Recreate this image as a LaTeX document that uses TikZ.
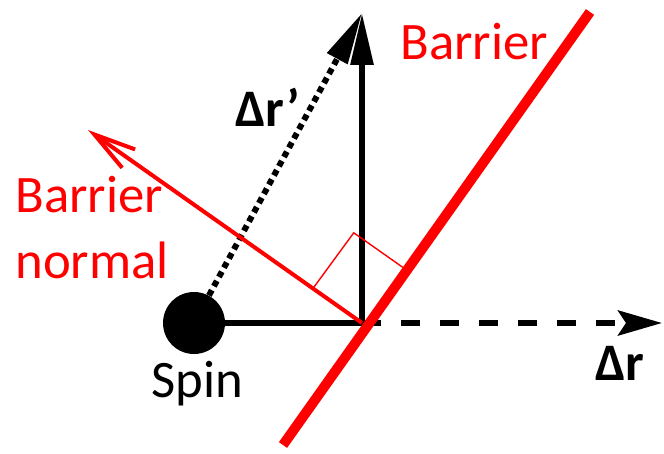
\documentclass[tikz,border=0pt]{standalone}
\usepackage{fontspec}
\setmainfont{Carlito}
\usetikzlibrary{arrows.meta,calc}

\begin{document}
\begin{tikzpicture}
\useasboundingbox (0,0) rectangle (13.28,9.06);

\tikzset
{%定义样式
  blackline/.style={draw,black,line width=1.2mm},
  uparrow/.style={blackline,-{Triangle[length=10.4mm,width=4.4mm]}},
  dotarrow/.style={blackline,dash pattern=on 1.2mm off 0.9mm,-{Triangle[length=10.4mm,width=4.4mm]}},
  dasharrow/.style={blackline,dash pattern=on 3.8mm off 4mm,-{Stealth[length=8.8mm,width=5mm,inset=1.6mm]}},
  barrier/.style={draw,red,line width=2mm},
  normalarrow/.style={draw,red,line width=0.8mm,-{Straight Barb[length=8.4mm,width=4.5mm]}},
  rightmark/.style={draw,red,line width=0.8pt},
  spinball/.style={circle,fill=black,inner sep=0pt,minimum size=12.4mm},
  lab/.style={font=\fontsize{30}{36}\selectfont,inner sep=0pt},
}

\coordinate (pivot) at (7.24,2.60);
\coordinate (uptip) at (7.24,8.80);
\coordinate (righttip) at (13.24,2.60);
\coordinate (barlow) at (5.66,0.16);
\coordinate (barhigh) at (11.80,8.82);
\coordinate (normaltip) at (1.76,6.46);
\node[spinball] (spin) at (3.88,2.60) {};

\path[blackline] (spin) -- (pivot);
\path[dasharrow] (pivot) -- (righttip);
\path[uparrow] (pivot) -- (uptip);
\path[dotarrow] (spin) -- (uptip);

\path[barrier] (barlow) -- (barhigh);
\path[normalarrow] (pivot) -- (normaltip);

\coordinate (mark1) at ($(pivot)!1.2cm!(normaltip)$);
\coordinate (mark2) at ($(pivot)!1.38cm!(barhigh)$);
\path[rightmark] (mark1) -- ($(mark1)+(mark2)-(pivot)$) -- (mark2);

\node[lab,anchor=base] (spinlabel) at (3.94,1.12) {Spin};
\node[lab,anchor=base west] (drp) at (4.70,6.52) {\bfseries Δr’};
\node[lab,anchor=base west] (dr) at (11.90,1.46) {\bfseries Δr};
\node[lab,anchor=base west,red] (barlabel) at (8.00,7.86) {Barrier};
\node[lab,anchor=base west,red] (normlabel) at (0.30,4.80) {Barrier};
\node[lab,anchor=base west,red] (normlabel2) at (0.30,3.50) {normal};
\end{tikzpicture}
\end{document}
